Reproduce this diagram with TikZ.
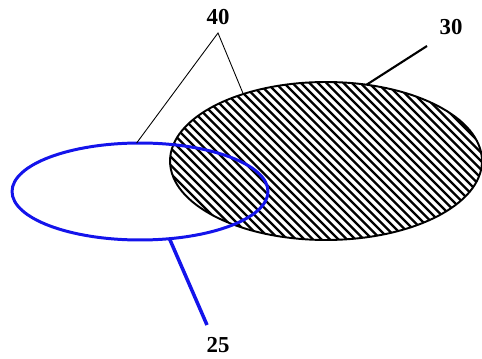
\documentclass[tikz,border=0pt]{standalone}
\usepackage{fontspec}
\setmainfont{Liberation Serif}
\usetikzlibrary{shapes.geometric}
\definecolor{ringblue}{RGB}{20,20,235}

\begin{document}
\begin{tikzpicture}[x=0.02cm, y=0.02cm, every node/.style={font=\fontsize{13}{15}\selectfont\bfseries}]
    \useasboundingbox (0,0) rectangle (482,358);

    % hatching
    \begin{scope}
        \clip (326,197) ellipse [x radius=156, y radius=79];
        \foreach \c in {90,98.5,...,570}
            \draw[line width=1.3pt] (\c-100,297) -- (\c+100,97);
    \end{scope}

    % hatched ellipse
    \node[ellipse, draw, line width=1.1pt, minimum width=6.24cm, minimum height=3.16cm, inner sep=0pt, outer sep=0pt] (hatch) at (326,197) {};

    % blue ellipse
    \node[ellipse, draw=ringblue, line width=1.7pt, minimum width=5.12cm, minimum height=1.94cm, inner sep=0pt, outer sep=0pt] (ring) at (140,166.5) {};

    % labels
    \node (lbl40) at (218,341) {40};
    \node (lbl30) at (451,331) {30};
    \node (lbl25) at (218,13) {25};

    % leader lines
    \coordinate (v40) at (218,325);
    \coordinate (e30) at (427,312);
    \coordinate (e25) at (207,33);
    \draw[line width=0.5pt] (ring.94) -- (v40) -- (hatch.141);
    \draw[line width=1.2pt] (hatch.62) -- (e30);
    \draw[ringblue, line width=2pt] (ring.302) -- (e25);
\end{tikzpicture}
\end{document}
